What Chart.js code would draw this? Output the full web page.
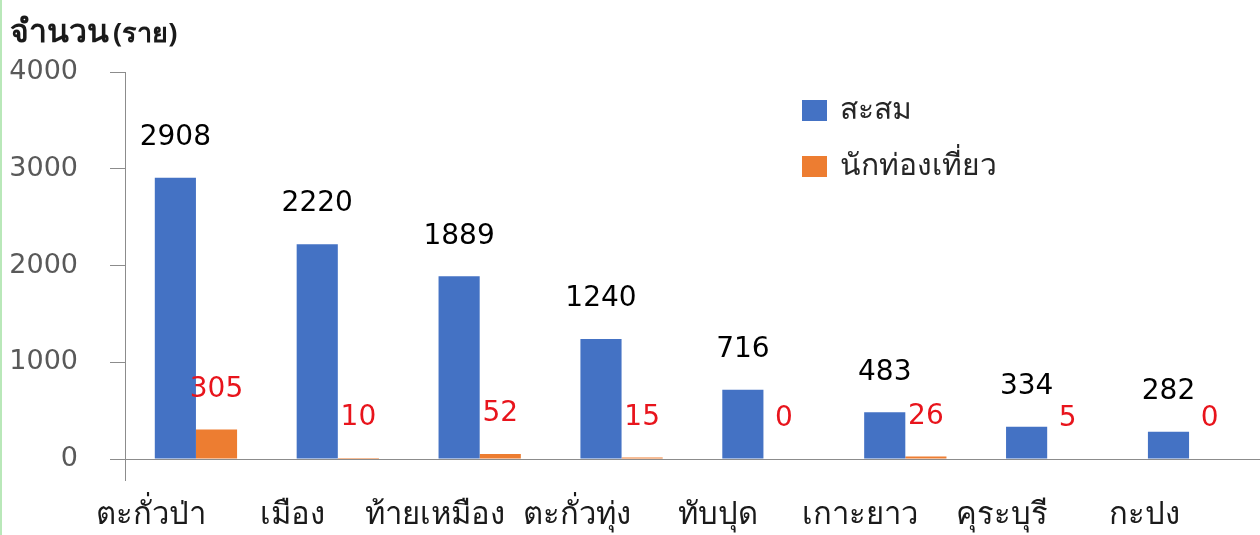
<!DOCTYPE html>
<html>
<head>
<meta charset="utf-8">
<script src="https://cdn.jsdelivr.net/npm/chart.js@4.4.0/dist/chart.umd.min.js"></script>
<style>
  body { margin: 0; background: #fff; }
  #wrap { position: relative; width: 1260px; height: 535px; }
  #edge { position: absolute; left: 0; top: 0; width: 2px; height: 535px; background: #b9e8b9; }
</style>
</head>
<body>
<div id="wrap">
  <canvas id="barChart" width="1260" height="535"></canvas>
  <div id="edge"></div>
</div>
<script>
// chart data
const districts = ["ตะกั่วป่า", "เมือง", "ท้ายเหมือง", "ตะกั่วทุ่ง", "ทับปุด", "เกาะยาว", "คุระบุรี", "กะปง"];
const cumulative = [2908, 2220, 1889, 1240, 716, 483, 334, 282];
const tourists = [305, 10, 52, 15, 0, 26, 5, 0];
const seriesNames = ["สะสม", "นักท่องเที่ยว"];
const yTicks = [0, 1000, 2000, 3000, 4000];

const blue = "#4472C4";
const orange = "#ED7D31";
const thaiFont = "'Noto Sans', 'DejaVu Sans', sans-serif";

// value labels above each bar
const valueLabels = {
    id: "valueLabels",
    afterDatasetsDraw(chart) {
        const ctx = chart.ctx;
        ctx.save();
        ctx.font = "28px 'DejaVu Sans', sans-serif";
        ctx.textAlign = "center";
        ctx.textBaseline = "bottom";
        chart.data.datasets.forEach(function(ds, di) {
            ctx.fillStyle = di === 0 ? "#000000" : "#E8141C";
            chart.getDatasetMeta(di).data.forEach(function(bar, i) {
                ctx.fillText(String(ds.data[i]), bar.x, bar.y - 26);
            });
        });
        ctx.restore();
    }
};

// title and legend boxes
const decorations = {
    id: "decorations",
    afterDraw(chart) {
        const ctx = chart.ctx;
        ctx.save();
        ctx.fillStyle = "#1a1a1a";
        ctx.textBaseline = "alphabetic";
        ctx.textAlign = "left";
        ctx.font = "bold 32px " + thaiFont;
        ctx.fillText("จำนวน", 10, 42);
        const w = ctx.measureText("จำนวน").width;
        ctx.font = "bold 27px " + thaiFont;
        ctx.fillText("(ราย)", 10 + w + 4, 42);

        const lx = 802, ly = [100, 156];
        ctx.font = "30px " + thaiFont;
        ctx.textBaseline = "middle";
        chart.data.datasets.forEach(function(ds, di) {
            ctx.fillStyle = ds.backgroundColor;
            ctx.fillRect(lx, ly[di], 25, 21);
            ctx.fillStyle = "#262626";
            ctx.fillText(ds.label, lx + 38, ly[di] + 10);
        });
        ctx.restore();
    }
};

new Chart(document.getElementById("barChart"), {
    type: "bar",
    data: {
        labels: districts,
        datasets: [
            { label: seriesNames[0], data: cumulative, backgroundColor: blue },
            { label: seriesNames[1], data: tourists, backgroundColor: orange }
        ]
    },
    options: {
        responsive: false,
        animation: false,
        layout: { padding: { left: 10, right: 0, top: 72, bottom: 0 } },
        datasets: { bar: { categoryPercentage: 0.58, barPercentage: 1.0 } },
        plugins: {
            legend: { display: false },
            tooltip: { enabled: false }
        },
        scales: {
            x: {
                afterFit: function(axis) {
                    axis.paddingLeft = 0;
                    axis.paddingRight = 0;
                    axis.height = 76;
                },
                grid: {
                    display: true,
                    drawOnChartArea: false,
                    tickLength: 22,
                    color: function(c) { return c.index === 0 ? "#8c8c8c" : "rgba(0,0,0,0)"; }
                },
                border: { color: "#8c8c8c", width: 1 },
                ticks: {
                    autoSkip: false,
                    maxRotation: 0,
                    padding: 14,
                    labelOffset: -45,
                    color: "#1a1a1a",
                    font: { size: 31, family: thaiFont, lineHeight: 1.29 }
                }
            },
            y: {
                min: 0,
                max: 4000,
                afterBuildTicks: function(axis) {
                    axis.ticks = yTicks.map(function(v) { return { value: v }; });
                },
                afterFit: function(axis) {
                    axis.width = 115;
                },
                grid: {
                    display: true,
                    drawOnChartArea: false,
                    tickLength: 15,
                    color: "#8c8c8c"
                },
                border: { color: "#8c8c8c", width: 1 },
                ticks: {
                    padding: 32,
                    color: "#595959",
                    font: { size: 27, family: "'DejaVu Sans', sans-serif" },
                    callback: function(v) { return String(v); }
                }
            }
        }
    },
    plugins: [valueLabels, decorations]
});
</script>
</body>
</html>
